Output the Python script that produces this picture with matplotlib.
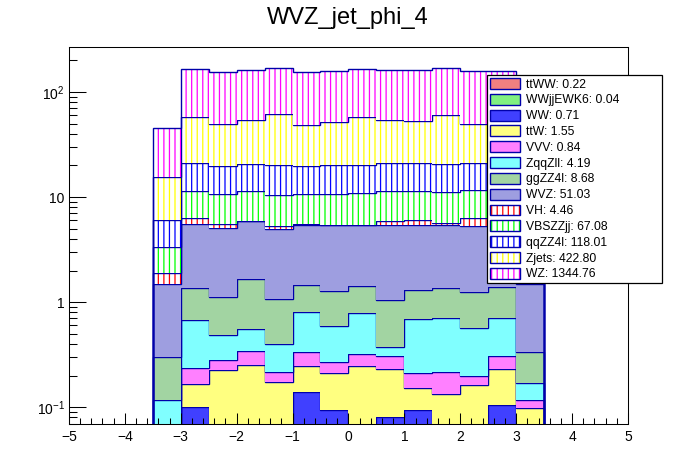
import numpy as np
import matplotlib
matplotlib.use('Agg')
import matplotlib.pyplot as plt
from matplotlib.patches import Patch
from matplotlib.ticker import FixedLocator, MultipleLocator, LogLocator, NullFormatter

plt.rcParams['font.family'] = ['Liberation Sans', 'DejaVu Sans']
plt.rcParams['mathtext.fontset'] = 'custom'
plt.rcParams['mathtext.rm'] = 'Liberation Sans'
plt.rcParams['mathtext.it'] = 'Liberation Sans'
plt.rcParams['hatch.linewidth'] = 0.9

# Binning: 14 bins of 0.5 from -3.5 to 3.5
bin_edges = np.arange(-3.5, 3.51, 0.5)

# Per-bin yields, stacked bottom -> top
ttWW     = [0.015] * 14
WWjjEWK6 = [0.003] * 14
WW     = [0.012, 0.082, 0.012, 0.012, 0.012, 0.122, 0.077, 0.012, 0.062, 0.077, 0.012, 0.012, 0.087, 0.012]
ttW    = [0.020, 0.066, 0.195, 0.221, 0.143, 0.106, 0.116, 0.219, 0.150, 0.057, 0.103, 0.132, 0.124, 0.068]
VVV    = [0.010, 0.069, 0.055, 0.090, 0.043, 0.088, 0.057, 0.071, 0.080, 0.059, 0.083, 0.036, 0.077, 0.019]
ZqqZll = [0.057, 0.443, 0.205, 0.212, 0.182, 0.469, 0.323, 0.466, 0.063, 0.484, 0.484, 0.367, 0.398, 0.052]
ggZZ4l = [0.183, 0.682, 0.635, 1.107, 0.672, 0.647, 0.679, 0.634, 0.667, 0.605, 0.670, 0.675, 0.676, 0.166]
WVZ    = [1.18, 4.17, 3.95, 4.25, 3.89, 4.03, 4.10, 4.02, 4.33, 4.14, 4.07, 4.01, 4.02, 1.165]
VH     = [0.41, 0.78, 0.46, 0.04, 0.37, 0.07, 0.03, 0.04, 0.58, 0.60, 0.21, 1.06, 0.05, 0.05]
VBSZZjj = [1.45, 5.09, 5.07, 5.45, 5.07, 5.05, 5.30, 5.52, 5.45, 5.36, 5.55, 5.39, 5.40, 1.50]
qqZZ4l = [2.7, 9.7, 9.1, 9.2, 9.8, 9.1, 9.5, 9.2, 9.7, 9.7, 9.4, 9.4, 9.3, 2.7]
Zjets  = [9.5, 36.7, 29.9, 33.5, 41.5, 28.8, 31.6, 37.6, 33.0, 31.8, 39.8, 28.5, 31.5, 8.9]
WZ     = [29.5, 107.8, 105.4, 107.9, 107.3, 106.5, 106.2, 107.8, 107.9, 109.1, 108.6, 108.4, 106.0, 30.0]

names = ['ttWW', 'WWjjEWK6', 'WW', 'ttW', 'VVV', 'ZqqZll', 'ggZZ4l', 'WVZ',
         'VH', 'VBSZZjj', 'qqZZ4l', 'Zjets', 'WZ']
totals = ['0.22', '0.04', '0.71', '1.55', '0.84', '4.19', '8.68', '51.03',
          '4.46', '67.08', '118.01', '422.80', '1344.76']
series = [ttWW, WWjjEWK6, WW, ttW, VVV, ZqqZll, ggZZ4l, WVZ,
          VH, VBSZZjj, qqZZ4l, Zjets, WZ]

# fill style: (face colour, hatch colour or None)
styles = [
    ('#f08080', None), ('#80f080', None), ('#4040ff', None), ('#ffff80', None),
    ('#ff80ff', None), ('#80ffff', None), ('#a2d4a2', None), ('#9e9ee0', None),
    ('white', '#ff0000'), ('white', '#00ff00'), ('white', '#0000ff'),
    ('white', '#ffff00'), ('white', '#ff00ff'),
]
line_col = '#0000aa'
floor = 1e-5

fig = plt.figure(figsize=(6.96, 4.72), dpi=100)
ax = fig.add_axes([0.099, 0.1017, 0.8033, 0.7987])
ax.set_yscale('log')

bottom = np.full(14, floor)
handles = []
for vals, (face, hcol), name, tot in zip(series, styles, names, totals):
    top = bottom + np.array(vals)
    if hcol is None:
        ax.stairs(top, bin_edges, baseline=bottom, fill=True, facecolor=face,
                  edgecolor='none', linewidth=0)
        fill_h = Patch(facecolor=face, edgecolor='none', linewidth=0)
    else:
        ax.stairs(top, bin_edges, baseline=bottom, fill=True, facecolor='white',
                  edgecolor=hcol, hatch='|||', linewidth=0)
        fill_h = Patch(facecolor='white', edgecolor=hcol, hatch='|||', linewidth=0)
    ax.stairs(top, bin_edges, baseline=floor, fill=False, color=line_col, linewidth=1.0)
    line_h = Patch(facecolor='none', edgecolor=line_col, linewidth=1.0)
    handles.append(((fill_h, line_h), f'{name}: {tot}'))
    bottom = top

ax.set_xlim(-5, 5)
ax.set_ylim(0.0693, 268)

ax.xaxis.set_major_locator(MultipleLocator(1))
ax.xaxis.set_minor_locator(MultipleLocator(0.2))
ax.yaxis.set_major_locator(FixedLocator([0.1, 1, 10, 100]))
ax.yaxis.set_minor_locator(LogLocator(base=10, subs=np.arange(2, 10)))
ax.yaxis.set_minor_formatter(NullFormatter())
ax.set_yticklabels([r'$10^{-1}$', '1', '10', r'$10^{2}$'])

ax.tick_params(axis='both', which='both', direction='in', top=False, right=False,
               width=0.75, labelsize=10, colors='black')
ax.tick_params(axis='x', which='major', length=8, pad=4)
ax.tick_params(axis='x', which='minor', length=4)
ax.tick_params(axis='y', which='major', length=12, pad=3)
ax.tick_params(axis='y', which='minor', length=6)
for sp in ax.spines.values():
    sp.set_linewidth(0.75)

leg = fig.legend([h for h, _ in handles], [l for _, l in handles],
                 loc='upper left', bbox_to_anchor=(0.700, 0.40, 0.251, 0.441),
                 bbox_transform=fig.transFigure, mode='expand', fontsize=8.7,
                 frameon=True, fancybox=False, edgecolor='black', framealpha=1,
                 borderaxespad=0, borderpad=0.25, labelspacing=0.27,
                 handlelength=2.5, handleheight=1.0, handletextpad=0.5)
leg.get_frame().set_linewidth(0.9)

fig.text(0.5, 0.962, 'WVZ_jet_phi_4', ha='center', va='center', fontsize=17)

fig.savefig('out.png', dpi=100)
